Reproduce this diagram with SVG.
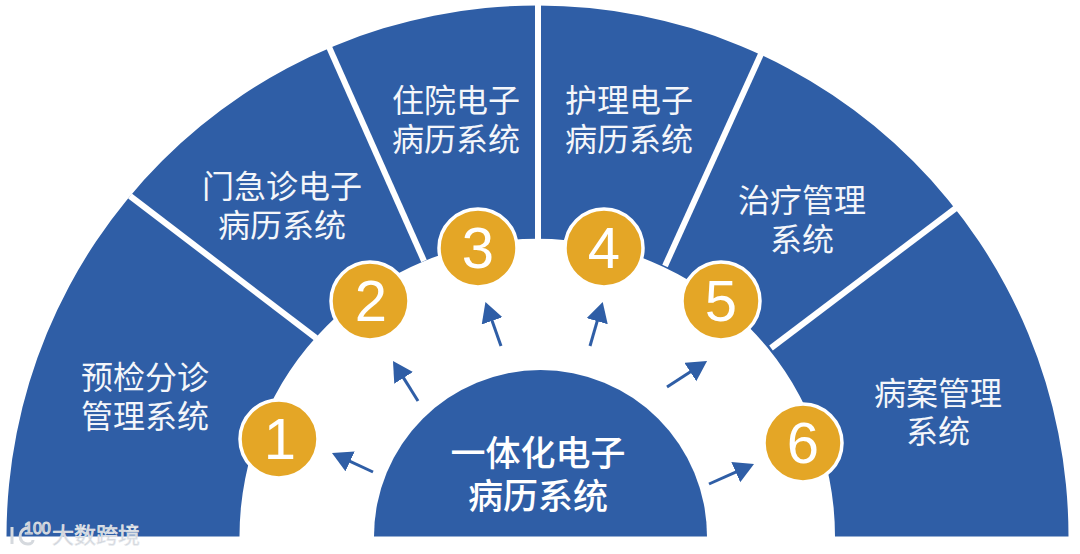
<svg xmlns="http://www.w3.org/2000/svg" width="1080" height="554" viewBox="0 0 1080 554">
<style>
.lb{font-family:"Noto Sans CJK SC","Noto Sans",sans-serif;font-size:32px;fill:#f4f6fa;text-anchor:middle}
.hub{font-size:35px;font-weight:500;fill:#fff}
.c{fill:#e4a626;stroke:#fff;stroke-width:3.5}
.n{font-family:"Liberation Sans",sans-serif;font-size:58px;fill:#fff;text-anchor:middle}
.d{stroke:#fff;stroke-width:6;fill:none}
.a{stroke:#2f5ea6;stroke-width:3;fill:none;marker-end:url(#ah)}
.w{font-family:"Noto Sans CJK SC",sans-serif;font-size:22px;fill:#cfd3d9;stroke:#e8ebef;stroke-width:.6}
.w2{font-family:"Liberation Sans",sans-serif;font-size:16px;fill:none;stroke:#d5d9de;stroke-width:1.2}
</style>
<defs>
<marker id="ah" markerUnits="userSpaceOnUse" markerWidth="24" markerHeight="24" refX="3" refY="11" orient="auto">
<path d="M0 0L20 11L0 22Z" fill="#2f5ea6"/>
</marker>
</defs>
<rect width="1080" height="554" fill="#fff"/>
<g id="band">
<path d="M6.500 536.500A531 531 0 0 1 1068.500 536.500H835A297.500 297.500 0 0 0 239.500 536.500Z" fill="#2f5ea6"/>
</g>
<g id="connectors">
<path class="d" d="M130 196L316 338"/>
<path class="d" d="M329 47L424 261"/>
<path class="d" d="M538 0V240"/>
<path class="d" d="M761 54L665 266"/>
<path class="d" d="M956 208L771 348"/>
<path class="a" d="M373 472L347.400 460.100"/>
<path class="a" d="M418 401L402 375.400"/>
<path class="a" d="M501 346L491.100 318"/>
<path class="a" d="M590 346L598 318.300"/>
<path class="a" d="M667 387L692.800 370.300"/>
<path class="a" d="M709 484L738.500 470.900"/>
</g>
<g id="hub">
<path d="M374 536.500A166.500 166.500 0 0 1 707 536.500Z" fill="#2f5ea6"/>
<text class="lb hub" x="538" y="466">一体化电子</text>
<text class="lb hub" x="538" y="509">病历系统</text>
</g>
<g id="s1"><text class="lb" x="145" y="389">预检分诊</text><text class="lb" x="145" y="428">管理系统</text><circle class="c" cx="279" cy="439" r="39"/><text class="n" x="280" y="459">1</text></g>
<g id="s2"><text class="lb" x="282" y="198">门急诊电子</text><text class="lb" x="282" y="237">病历系统</text><circle class="c" cx="370" cy="301" r="39"/><text class="n" x="371" y="321">2</text></g>
<g id="s3"><text class="lb" x="456" y="112">住院电子</text><text class="lb" x="456" y="151">病历系统</text><circle class="c" cx="478" cy="248" r="39"/><text class="n" x="478" y="268">3</text></g>
<g id="s4"><text class="lb" x="629" y="112">护理电子</text><text class="lb" x="629" y="151">病历系统</text><circle class="c" cx="604" cy="248" r="39"/><text class="n" x="604" y="268">4</text></g>
<g id="s5"><text class="lb" x="802" y="212">治疗管理</text><text class="lb" x="802" y="251">系统</text><circle class="c" cx="721" cy="301" r="39"/><text class="n" x="721" y="321">5</text></g>
<g id="s6"><text class="lb" x="938" y="405">病案管理</text><text class="lb" x="938" y="443">系统</text><circle class="c" cx="803" cy="443" r="39"/><text class="n" x="803" y="463">6</text></g>
<g id="watermark"><text class="w2" x="24" y="534">100</text><path d="M12 527V544M28 528C18 528 17 544 28 544C31 544 33 542 33 540" fill="none" stroke="#d5d9de" stroke-width="3"/><text class="w" x="52" y="543">大数跨境</text></g>
</svg>
